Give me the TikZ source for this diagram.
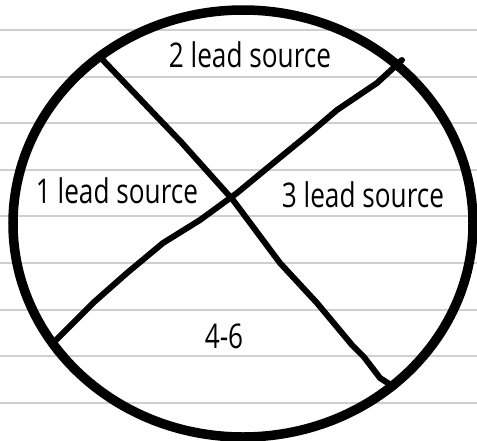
\documentclass[tikz,border=0pt]{standalone}
\usepackage{fontspec}
\setmainfont{Open Sans}[FakeStretch=0.77]
\definecolor{ruleGray}{HTML}{CFCFCF}

\begin{document}
\begin{tikzpicture}[x=1pt,y=-1pt,
 ruled/.style={draw=ruleGray,line width=2pt},
 rim/.style={draw=black,line width=9.5pt},
 chord/.style={draw=black,line width=6pt,line cap=round,line join=round},
 sector/.style={anchor=base,inner sep=0pt,font=\fontsize{34}{38}\selectfont}]
\useasboundingbox (0,0) rectangle (477,440);
\fill[white] (0,0) rectangle (477,440);
\foreach \i in {0,...,8} \draw[ruled] (0,30+46.6*\i) -- (477,30+46.6*\i);

\draw[rim] (243,223.5) ellipse [x radius=230,y radius=213.5];

\coordinate (nw) at (100,57);
\coordinate (se) at (394,387);
\coordinate (ne) at (402,60);
\coordinate (sw) at (56,340);
\draw[chord] (nw) -- (182,143) -- (233,200) -- (280,263) -- (317,303) -- (352,345) -- (364,357) -- (380,378) -- (se);
\draw[chord] (ne) -- (377,83) -- (337,110) -- (310,133) -- (277,160) -- (237,193) -- (200,220) -- (163,243) -- (127,273) -- (93,303) -- (sw);

\node[sector] (two) at (250,67) {2 lead source};
\node[sector] (one) at (117,203) {1 lead source};
\node[sector] (three) at (363,207) {3 lead source};
\node[sector] (rest) at (224,348) {4-6};
\end{tikzpicture}
\end{document}
